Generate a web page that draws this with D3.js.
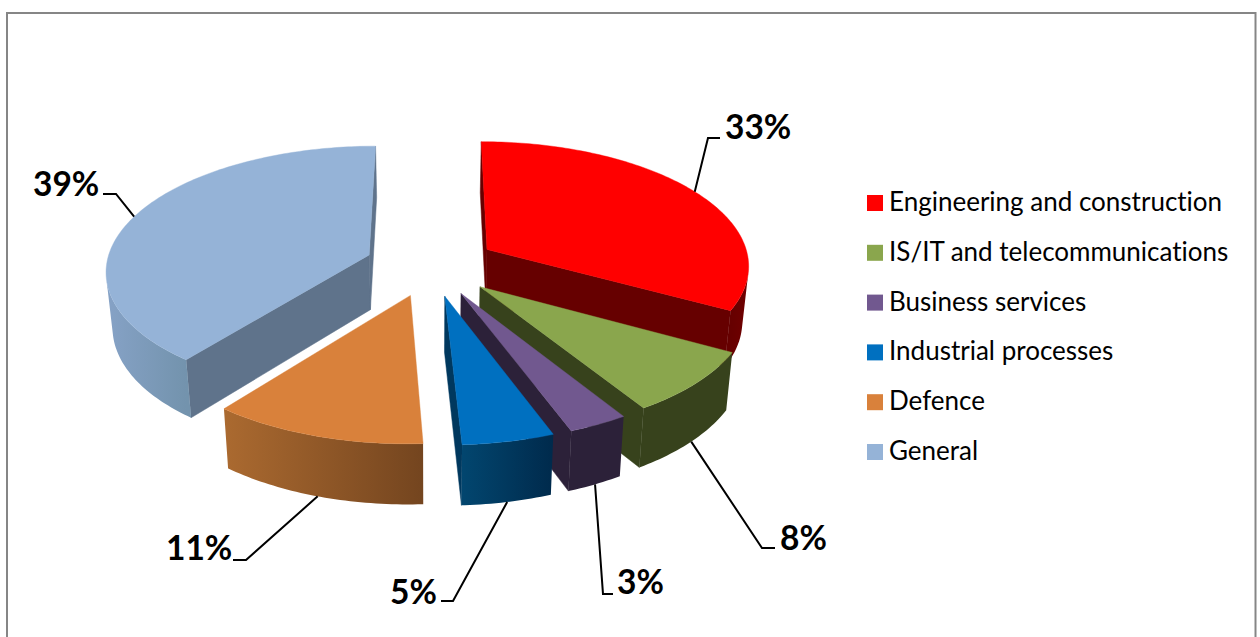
<!DOCTYPE html>
<html>
<head>
<meta charset="utf-8">
<script src="https://cdn.jsdelivr.net/npm/d3@7/dist/d3.min.js"></script>
<style>
  html, body { margin: 0; padding: 0; background: #fff; overflow: hidden; }
  text { font-family: Lato, "Open Sans", sans-serif; fill: #000; font-variant-ligatures: none; }
</style>
</head>
<body>
<svg id="chart" width="1260" height="637"></svg>
<script>
// Sector shares, in percent (labels show them rounded)
const categories = ["Engineering and construction", "IS/IT and telecommunications", "Business services", "Industrial processes", "Defence", "General"];
const shares = [33.0, 8.1, 3.2, 4.9, 11.4, 39.4];

// Surface colours for each sector
const topColors  = ["#ff0000", "#8aa64d", "#71588f", "#0070c0", "#d9813b", "#95b3d7"];
const faceColors = ["#660000", "#37421c", "#2c2139", "#00385e", "#74451f", "#5f738b"];
const wallStart  = ["#700000", "#37421c", "#2c2139", "#002a4c", "#74451f", "#7393ad"];
const wallEnd    = ["#660000", "#37421c", "#2c2139", "#02466f", "#ab6a30", "#86a2c6"];

// Camera and solid parameters of the tilted pie
const view = { cx: 431, cy: 265, radius: 263, tilt: 0.47, persp: 0.00044, depth: 55, taper: 0.02, explode: 66 };

// Label placement: text anchor point, leader knee and leader end
const labelLayout = [
  { x: 725, y: 139, knee: [708, 138], end: [720, 138], rim: 0 },
  { x: 780, y: 550, knee: [762, 548], end: [775, 548], rim: 1 },
  { x: 617, y: 594, knee: [603, 594], end: [613, 594], rim: 1 },
  { x: 390, y: 604, knee: [453, 601], end: [441, 601], rim: 1 },
  { x: 166, y: 560, knee: [246, 560], end: [233, 560], rim: 1 },
  { x: 33,  y: 196, knee: [116, 194], end: [103, 194], rim: 0 }
];

const svg = d3.select("#chart");
const defs = svg.append("defs");

// Chart frame
svg.append("rect")
  .attr("x", 7).attr("y", 13).attr("width", 1248.5).attr("height", 640)
  .attr("fill", "#fff").attr("stroke", "#868686").attr("stroke-width", 2);

const arcs = d3.pie().sort(null).value(d => d)(shares);

// Perspective projection: wx to the right, wy towards the viewer, z from 0 (top) to 1 (bottom)
function project(wx, wy, z) {
  const f = 1 / (1 - wy * view.persp);
  const s = 1 - view.taper * z;
  return [
    view.cx + wx * f * s,
    view.cy + wy * view.tilt * f * s + view.depth * f * z
  ];
}

const polar = (angle, r) => [r * Math.sin(angle), -r * Math.cos(angle)];
const outline = d3.line().curve(d3.curveLinearClosed);

const slices = arcs.map((arc, i) => {
  const mid = (arc.startAngle + arc.endAngle) / 2;
  const [ox, oy] = polar(mid, view.explode);
  const at = (angle, r, z) => {
    const [px, py] = polar(angle, r);
    return project(ox + px, oy + py, z);
  };
  return { arc, i, mid, ox, oy, at };
});

// Keeps only the faces turned towards the camera
const facesViewer = pts => d3.polygonArea(pts) > 0;

const pieLayer = svg.append("g");

slices.slice().sort((a, b) => a.oy - b.oy).forEach(s => {
  const { arc, i, at } = s;
  const g = pieLayer.append("g");
  const step = Math.PI / 180;
  const angles = d3.range(arc.startAngle, arc.endAngle, step).concat(arc.endAngle);

  // Radial cut faces
  [arc.startAngle, arc.endAngle].forEach((angle, side) => {
    const pts = [at(0, 0, 0), at(angle, view.radius, 0), at(angle, view.radius, 1), at(0, 0, 1)];
    const ordered = side === 0 ? pts : pts.slice().reverse();
    if (facesViewer(ordered)) {
      g.append("path").attr("d", outline(pts))
        .attr("fill", faceColors[i]).attr("stroke", faceColors[i]).attr("stroke-width", 0.5);
    }
  });

  // Outer wall: one piece over the visible part of the arc, shaded from end to end
  const visible = d3.pairs(angles)
    .filter(([a0, a1]) => facesViewer([at(a0, view.radius, 0), at(a1, view.radius, 0), at(a1, view.radius, 1), at(a0, view.radius, 1)]));
  if (visible.length) {
    const wallAngles = visible.map(p => p[0]).concat(visible[visible.length - 1][1]);
    const upper = wallAngles.map(a => at(a, view.radius, 0));
    const lower = wallAngles.map(a => at(a, view.radius, 1));
    const gradient = defs.append("linearGradient")
      .attr("id", `wall-${i}`)
      .attr("gradientUnits", "userSpaceOnUse")
      .attr("x1", upper[0][0]).attr("y1", 0)
      .attr("x2", upper[upper.length - 1][0]).attr("y2", 0);
    gradient.append("stop").attr("offset", 0).attr("stop-color", wallStart[i]);
    gradient.append("stop").attr("offset", 1).attr("stop-color", wallEnd[i]);
    g.append("path").attr("d", outline(upper.concat(lower.reverse())))
      .attr("fill", `url(#wall-${i})`);
  }

  // Top surface
  const rim = angles.map(a => at(a, view.radius, 0));
  g.append("path").attr("d", outline([at(0, 0, 0)].concat(rim)))
    .attr("fill", topColors[i]).attr("stroke", topColors[i]).attr("stroke-width", 0.4);
});

// Leader lines and percentage labels
const labelLayer = svg.append("g");
const leader = d3.line();
slices.forEach(s => {
  const layout = labelLayout[s.i];
  labelLayer.append("path")
    .attr("d", leader([s.at(s.mid, view.radius, layout.rim), layout.knee, layout.end]))
    .attr("fill", "none").attr("stroke", "#000").attr("stroke-width", 2);
  labelLayer.append("text")
    .attr("x", layout.x).attr("y", layout.y)
    .attr("font-size", 33.5).attr("font-weight", 700)
    .text(Math.round(shares[s.i]) + "%");
});

// Legend
const legendRow = d3.scaleLinear().domain([0, 5]).range([195, 444]);
const legend = svg.append("g").selectAll("g").data(categories).join("g")
  .attr("transform", (d, i) => `translate(867,${legendRow(i)})`);
legend.append("rect").attr("width", 16).attr("height", 16).attr("fill", (d, i) => topColors[i]);
legend.append("text").attr("x", 22).attr("y", 16).attr("font-size", 26).text(d => d);
</script>
</body>
</html>
